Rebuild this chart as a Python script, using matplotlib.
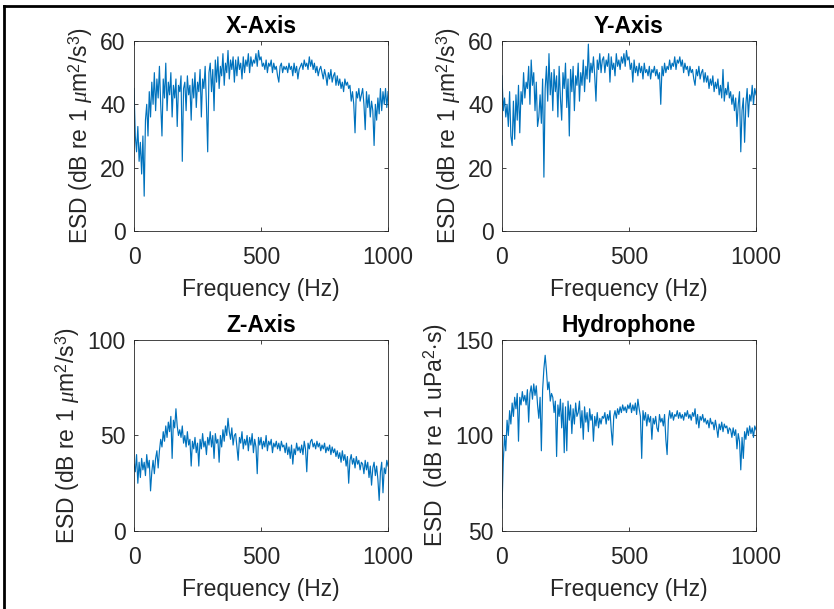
import numpy as np
import matplotlib

matplotlib.use("Agg")
import matplotlib.pyplot as plt
from matplotlib.lines import Line2D

plt.rcParams["font.family"] = ["Liberation Sans", "DejaVu Sans"]
plt.rcParams["mathtext.fontset"] = "custom"
plt.rcParams["mathtext.it"] = "Liberation Serif:italic"
plt.rcParams["mathtext.rm"] = "Liberation Sans"

# Frequency grid (Hz), one reading every 5 Hz
freq = np.arange(0, 1001, 5)

# ESD readings (dB), 20 values per 100 Hz
x_axis = [
    45, 30, 25, 33, 22, 28, 18, 30, 11, 35, 40, 30, 44, 36, 47, 40, 50, 38, 48, 42,
    52, 40, 30, 48, 42, 53, 38, 47, 43, 50, 36, 46, 42, 48, 33, 46, 44, 49, 22, 45,
    47, 38, 49, 43, 46, 35, 48, 42, 50, 39, 47, 44, 51, 36, 48, 45, 52, 40, 25, 50,
    53, 44, 51, 38, 54, 47, 55, 45, 52, 49, 56, 46, 53, 50, 57, 48, 54, 51, 55, 47,
    54, 49, 55, 51, 53, 48, 55, 50, 54, 52, 56, 50, 55, 52, 54, 53, 56, 52, 57, 54,
    55, 52, 53, 51, 54, 50, 53, 52, 54, 50, 53, 51, 52, 49, 47, 52, 53, 50, 52, 51,
    52, 50, 53, 51, 52, 49, 53, 50, 52, 48, 51, 52, 53, 51, 54, 52, 53, 51, 55, 52,
    54, 51, 53, 50, 52, 49, 51, 52, 50, 48, 51, 49, 46, 50, 48, 51, 47, 49, 50, 46,
    49, 46, 48, 45, 47, 44, 48, 46, 47, 45, 46, 41, 44, 40, 31, 44, 42, 45, 41, 43,
    45, 40, 32, 44, 39, 43, 36, 41, 38, 27, 40, 35, 42, 37, 45, 38, 44, 40, 45, 39,
    44,
]

y_axis = [
    49, 38, 42, 36, 40, 33, 44, 30, 27, 41, 29, 43, 35, 46, 31, 44, 40, 50, 42, 47,
    45, 52, 40, 54, 46, 50, 38, 47, 33, 36, 43, 34, 48, 17, 45, 52, 41, 56, 43, 50,
    38, 51, 44, 49, 36, 52, 42, 35, 50, 45, 53, 39, 48, 30, 51, 44, 52, 38, 49, 46,
    53, 41, 50, 46, 54, 44, 52, 48, 59, 47, 53, 50, 55, 49, 41, 54, 51, 56, 50, 54,
    55, 50, 54, 52, 56, 47, 55, 51, 53, 49, 56, 52, 54, 51, 55, 53, 56, 52, 57, 54,
    55, 51, 53, 47, 54, 50, 52, 49, 53, 50, 52, 48, 53, 50, 51, 49, 52, 48, 51, 50,
    52, 49, 51, 48, 50, 40, 52, 49, 53, 50, 52, 51, 54, 51, 53, 52, 55, 51, 54, 53,
    55, 52, 54, 50, 53, 51, 52, 49, 52, 50, 51, 48, 46, 51, 49, 52, 48, 50, 51, 47,
    50, 47, 49, 45, 48, 46, 49, 44, 47, 45, 48, 43, 46, 42, 51, 41, 45, 43, 47, 42,
    44, 40, 43, 38, 42, 33, 40, 44, 25, 38, 42, 28, 40, 45, 36, 43, 41, 46, 40, 45,
    43,
]

z_axis = [
    35, 31, 40, 25, 36, 28, 38, 32, 36, 29, 40, 33, 37, 21, 31, 37, 30, 38, 42, 33,
    42, 48, 44, 52, 47, 55, 49, 57, 52, 60, 38, 58, 54, 64, 55, 50, 53, 49, 55, 46,
    50, 44, 52, 45, 48, 34, 47, 43, 49, 41, 46, 34, 48, 43, 51, 44, 47, 40, 49, 45,
    52, 44, 50, 38, 51, 46, 48, 36, 50, 44, 53, 47, 55, 50, 59, 52, 48, 54, 45, 50,
    51, 44, 37, 49, 46, 52, 43, 48, 45, 50, 42, 49, 45, 51, 41, 48, 44, 30, 49, 45,
    49, 43, 47, 44, 50, 42, 47, 45, 48, 41, 46, 44, 47, 43, 46, 42, 47, 44, 45, 41,
    46, 40, 44, 38, 45, 35, 43, 40, 46, 42, 44, 41, 45, 40, 47, 43, 31, 46, 43, 47,
    48, 44, 46, 43, 47, 44, 46, 42, 45, 43, 46, 41, 44, 42, 45, 40, 44, 41, 43, 39,
    42, 38, 41, 36, 42, 37, 40, 34, 39, 25, 37, 40, 35, 38, 33, 39, 35, 37, 32, 36,
    35, 30, 37, 32, 36, 28, 34, 24, 33, 36, 29, 34, 27, 16, 31, 36, 20, 33, 30, 37,
    34,
]

hydrophone = [
    62, 86, 100, 92, 108, 100, 113, 106, 117, 110, 120, 114, 122, 97, 120, 116, 123, 118, 121, 116,
    124, 107, 122, 126, 119, 127, 121, 126, 116, 109, 120, 92, 124, 135, 142, 134, 124, 128, 118, 122,
    120, 112, 118, 89, 116, 110, 119, 104, 117, 91, 115, 92, 118, 108, 116, 101, 114, 106, 117, 110,
    112, 118, 104, 113, 98, 115, 107, 112, 102, 114, 108, 111, 97, 110, 105, 112, 104, 109, 106, 110,
    109, 112, 106, 111, 108, 113, 103, 95, 110, 113, 109, 114, 111, 115, 112, 116, 113, 115, 112, 116,
    114, 117, 112, 116, 113, 117, 111, 119, 114, 110, 88, 113, 108, 112, 105, 111, 107, 110, 98, 109,
    106, 110, 104, 102, 111, 107, 109, 105, 111, 98, 90, 108, 113, 109, 112, 108, 111, 110, 113, 109,
    112, 109, 111, 108, 112, 110, 113, 109, 111, 108, 112, 110, 114, 106, 111, 104, 110, 108, 111, 107,
    109, 106, 108, 104, 109, 106, 107, 103, 108, 104, 99, 106, 103, 107, 102, 106, 104, 105, 101, 104,
    103, 99, 104, 100, 103, 93, 101, 97, 82, 99, 88, 102, 98, 104, 100, 105, 101, 104, 99, 105,
    103,
]

titles = ["X-Axis", "Y-Axis", "Z-Axis", "Hydrophone"]
series = [x_axis, y_axis, z_axis, hydrophone]
ylims = [(0, 60), (0, 60), (0, 100), (50, 150)]
yticks = [[0, 20, 40, 60], [0, 20, 40, 60], [0, 50, 100], [50, 100, 150]]
accel_label = r"ESD (dB re 1 $\mathit{\mu}$m$^2$/s$^3$)"
ylabels = [accel_label, accel_label, accel_label, r"ESD  (dB re 1 uPa$^2$$\cdot$s)"]

line_color = "#0072BD"
text_color = "#262626"
fs = 16.5

fig = plt.figure(figsize=(8.34, 6.09), dpi=100)

positions = [
    [0.1607, 0.6207, 0.3046, 0.312],
    [0.6019, 0.6207, 0.3046, 0.312],
    [0.1607, 0.1281, 0.3046, 0.3136],
    [0.6019, 0.1281, 0.3046, 0.3136],
]

for pos, title, vals, ylim, yt, ylab in zip(positions, titles, series, ylims, yticks, ylabels):
    ax = fig.add_axes(pos)
    ax.plot(freq, vals, color=line_color, linewidth=0.85)
    ax.set_xlim(0, 1000)
    ax.set_ylim(*ylim)
    ax.set_xticks([0, 500, 1000])
    ax.set_yticks(yt)
    ax.tick_params(direction="in", length=3, width=0.6, top=True, right=True,
                   labelsize=fs, labelcolor=text_color, color=text_color)
    ax.tick_params(axis="x", pad=11)
    ax.tick_params(axis="y", pad=6)
    for sp in ax.spines.values():
        sp.set_color(text_color)
        sp.set_linewidth(0.6)
    ax.set_title(title, fontsize=fs, fontweight="bold", color="black", pad=6)
    ax.set_xlabel("Frequency (Hz)", fontsize=fs, color=text_color, labelpad=6)
    ax.set_ylabel(ylab, fontsize=fs, color=text_color, labelpad=4)

# frame lines around the figure (top and left)
fig.add_artist(Line2D([0.005, 1.0], [0.990, 0.990], color="black", linewidth=2, transform=fig.transFigure))
fig.add_artist(Line2D([0.005, 0.005], [0.0, 0.990], color="black", linewidth=2, transform=fig.transFigure))

fig.savefig("out.png", dpi=100)
